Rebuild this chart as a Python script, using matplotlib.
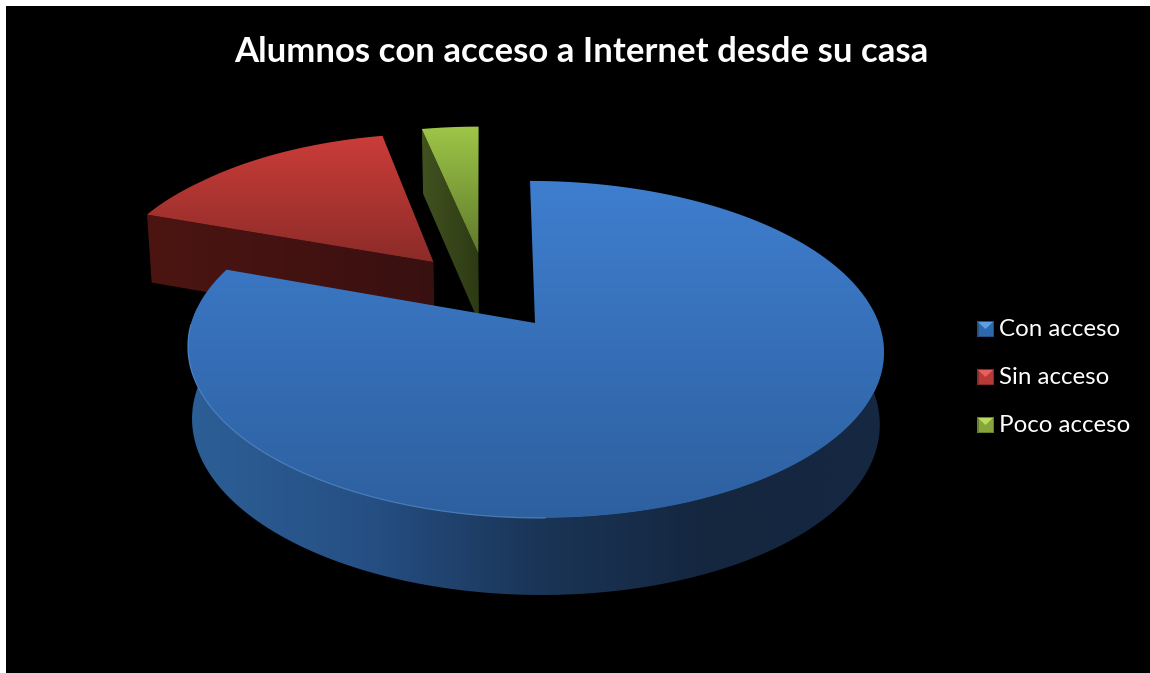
import numpy as np
import matplotlib
matplotlib.use("Agg")
import matplotlib.pyplot as plt
from matplotlib.colors import LinearSegmentedColormap
from matplotlib.patches import Polygon, Rectangle

W, H = 1150, 673

title = "Alumnos con acceso a Internet desde su casa"
labels = ["Con acceso", "Sin acceso", "Poco acceso"]
values = [80.55, 16.2, 3.25]
explode = 0.25

# top-face and side-face shades per slice
top_colors = [["#3f7ecf", "#2d609f"], ["#cb3d39", "#8c2b28"], ["#9fc648", "#5f7a2c"]]
side_colors = [["#2c5f96", "#265085", "#1a3557", "#15263f", "#152842"],
               ["#4c1512", "#391010"], ["#41521f", "#2c3a14"]]
key_colors = [("#5aa0e8", "#2f69ad", "#24507f"), ("#e8605c", "#b83a36", "#8a2a27"), ("#b8dc60", "#86a63c", "#64802c")]

# projection of the pie disc onto the page, origin at the tip of the first slice
ox, oy = 535, 323
rx, ry = 343.7, 164.4
persp = 0.157
lean = -5.8
depth = 71.5
depth_persp = 0.071
shrink = 0.988


def top_xy(x, t):
    s = 1 + persp * t
    far = np.maximum(np.asarray(t) - 1, 0)  # exploded slices sit past the back of the disc
    return ox + (rx * x + lean * t) / s - 5 * far, oy - ry * t / s - 4 * far


def bottom_xy(x, t):
    px, py = top_xy(x, t)
    return ox + (px - ox) * shrink, py + depth / (1 + depth_persp * t)


def gradient_fill(ax, pts, colors, vertical=True):
    # paint a gradient clipped to a polygon
    pts = np.asarray(pts)
    cmap = LinearSegmentedColormap.from_list("g", colors)
    x0, x1 = pts[:, 0].min(), pts[:, 0].max()
    y0, y1 = pts[:, 1].min(), pts[:, 1].max()
    grad = np.linspace(0, 1, 256)
    grad = grad[:, None] if vertical else grad[None, :]
    im = ax.imshow(grad, cmap=cmap, extent=(x0, x1, y1, y0), aspect="auto",
                   interpolation="bilinear", zorder=ax.zcount)
    poly = Polygon(pts, closed=True, fc="none", ec="none", transform=ax.transData)
    ax.add_patch(poly)
    im.set_clip_path(poly)
    ax.zcount += 1


fig = plt.figure(figsize=(W / 100, H / 100), dpi=100, facecolor="white")
ax = fig.add_axes([0, 0, 1, 1])
ax.set_xlim(0, W)
ax.set_ylim(H, 0)
ax.axis("off")
ax.zcount = 2
ax.add_patch(Rectangle((6, 6), W - 6, H - 6, fc="black", ec="none", zorder=1))

fractions = np.array(values) / sum(values)
sweeps = fractions * 360
starts = np.concatenate([[0], np.cumsum(sweeps)[:-1]])
mids = np.radians(starts + sweeps / 2)
base_x = explode * np.sin(mids[0])
base_t = explode * np.cos(mids[0])

# back slices first so the big slice overlaps them
for i in [2, 1, 0]:
    cx = explode * np.sin(mids[i]) - base_x
    ct = explode * np.cos(mids[i]) - base_t
    ang = np.radians(np.linspace(starts[i], starts[i] + sweeps[i], 240))
    xs = cx + np.sin(ang)
    ts = ct + np.cos(ang)

    # visible straight wall along the first cut edge
    if i > 0:
        wall = [top_xy(cx, ct), top_xy(xs[0], ts[0]), bottom_xy(xs[0], ts[0]), bottom_xy(cx, ct)]
        gradient_fill(ax, wall, side_colors[i], vertical=False)
    else:
        # rounded wall, only the front part of the rim shows
        tx, ty = top_xy(xs, ts)
        bx, by = bottom_xy(xs, ts)
        keep = (np.cos(ang) + ct) < 0.1
        rim = np.column_stack([tx[keep], ty[keep]])
        low = np.column_stack([bx[keep], by[keep]])[::-1]
        gradient_fill(ax, np.vstack([rim, low]), side_colors[0], vertical=False)

    tx, ty = top_xy(xs, ts)
    ax_x, ax_y = top_xy(cx, ct)
    face = np.vstack([[ax_x, ax_y], np.column_stack([tx, ty])])
    gradient_fill(ax, face, top_colors[i])
    if i == 0:
        # thin highlight on the front left lip
        lip = (np.cos(ang) + ct < 0.0) & (np.sin(ang) + cx < 0.02)
        ax.plot(tx[lip], ty[lip], color="#5f97dc", lw=0.8, alpha=0.7, zorder=ax.zcount)
        ax.zcount += 1

# title and key
ax.text(581, 52, title, color="white", fontsize=25, fontweight="bold", family="Lato",
        ha="center", va="center", zorder=50)
for i, lab in enumerate(labels):
    y = 329 + 48 * i
    x0, x1, y0, y1 = 977, 994, y - 8, y + 8
    c_top, c_mid, c_low = key_colors[i]
    ax.add_patch(Rectangle((x0, y0), x1 - x0, y1 - y0, fc=c_low, ec="none", zorder=50))
    ax.add_patch(Rectangle((x0 + 1.5, y0 + 1.5), x1 - x0 - 3, y1 - y0 - 3, fc=c_mid, ec="none", zorder=51))
    ax.add_patch(Polygon([(x0 + 1, y0 + 1), (x1 - 1, y0 + 1), ((x0 + x1) / 2, (y0 + y1) / 2)],
                         fc=c_top, ec="none", zorder=52))
    ax.text(999, y + 1, lab, color="white", fontsize=17.4, family="Lato", ha="left", va="center", zorder=53)

fig.savefig("out.png", dpi=100, facecolor="white")
